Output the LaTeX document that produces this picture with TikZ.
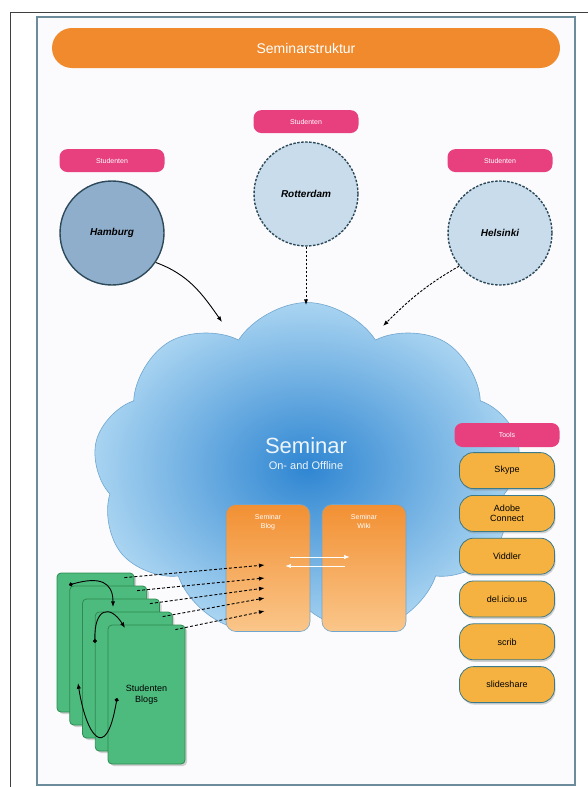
\documentclass[tikz,border=0pt]{standalone}
\usepackage{fontspec}
\setmainfont{Liberation Sans}
\usetikzlibrary{shapes,shapes.symbols,arrows.meta,positioning,shadows}
\definecolor{titleorange}{HTML}{F08A2C}
\definecolor{tagpink}{HTML}{E8407F}
\definecolor{cityblue}{HTML}{8FAECB}
\definecolor{citylight}{HTML}{C8DCEC}
\definecolor{cityborder}{HTML}{2D4A5A}
\definecolor{cloudin}{HTML}{2F86D2}
\definecolor{cloudout}{HTML}{A9D4F1}
\definecolor{cloudedge}{HTML}{6FA6D0}
\definecolor{boxtop}{HTML}{F29033}
\definecolor{boxbottom}{HTML}{FAC68A}
\definecolor{toolyellow}{HTML}{F5B240}
\definecolor{tooledge}{HTML}{3A7A8A}
\definecolor{cardgreen}{HTML}{4EBB7E}
\definecolor{cardedge}{HTML}{2E8A50}
\definecolor{paper}{HTML}{FBFBFD}
\definecolor{innerframe}{HTML}{6C8C9C}
\tikzset{
titlebar/.style={rectangle, fill=titleorange, text=white, rounded corners=20pt, minimum width=508pt, minimum height=40pt, font=\fontsize{14}{16}\selectfont},
tag/.style={rectangle, fill=tagpink, text=white, rounded corners=8pt, minimum width=105pt, minimum height=23pt, font=\fontsize{7}{8}\selectfont},
city/.style={circle, minimum size=104pt, line width=1.4pt, draw=cityborder, font=\bfseries\itshape\fontsize{10}{12}\selectfont},
remote/.style={city, fill=citylight, dash pattern=on 2.5pt off 1.5pt},
seminarcloud/.style={cloud, cloud puffs=9, cloud puff arc=115, aspect=1.3, minimum width=428pt, minimum height=335pt, inner color=cloudin, outer color=cloudout, draw=cloudedge, line width=0.6pt},
webbox/.style={rectangle, rounded corners=10pt, minimum width=84pt, minimum height=127pt, top color=boxtop, bottom color=boxbottom, draw=cloudedge, line width=0.6pt},
boxlabel/.style={align=center, text=white, font=\fontsize{7}{8.5}\selectfont},
tool/.style={rectangle, rounded corners=14pt, fill=toolyellow, draw=tooledge, line width=0.8pt, minimum width=95pt, minimum height=36pt, align=center, font=\fontsize{9}{10}\selectfont, drop shadow={shadow xshift=1pt, shadow yshift=-2pt, opacity=0.35}},
card/.style={rectangle, rounded corners=4pt, fill=cardgreen, draw=cardedge, line width=0.8pt, minimum width=77pt, minimum height=139pt, drop shadow={shadow xshift=2pt, shadow yshift=-2pt, opacity=0.35}},
line/.style={draw, -{Latex[length=2mm]}, line width=0.9pt},
loop/.style={draw, {Circle[length=4pt]}-{Latex[length=2mm]}, line width=0.9pt},
whiteline/.style={draw=white, -{Latex[length=2mm]}, line width=0.7pt}
}
\begin{document}
\begin{tikzpicture}[x=1pt, y=-1pt]
    \useasboundingbox (0,0) rectangle (588,787);
    % Frames
    \draw[fill=paper, draw=innerframe, line width=1.2pt] (37,17) rectangle (575,785);
    \draw[black!75, line width=1pt] (10,787) -- (10,12) -- (588,12);
    % Place nodes
    \node [titlebar] (title) at (306,48) {Seminarstruktur};
    \node [seminarcloud] (seminar) at (307,470) {};
    \node [text=white!92!cloudin, font=\fontsize{22}{24}\selectfont] (seminarlabel) at (306,446) {Seminar};
    \node [text=white!92!cloudin, font=\fontsize{11}{12}\selectfont, below=0pt of seminarlabel] (seminarsub) {On- and Offline};
    \node [city, fill=cityblue] (hamburg) at (112,233) {Hamburg};
    \node [remote] (rotterdam) at (306,194) {Rotterdam};
    \node [remote] (helsinki) at (500,233) {Helsinki};
    \node [tag, above=8pt of hamburg] (taghamburg) {Studenten};
    \node [tag, above=8pt of rotterdam] (tagrotterdam) {Studenten};
    \node [tag, above=8pt of helsinki] (taghelsinki) {Studenten};
    \node [webbox] (blog) at (268,568) {};
    \node [webbox] (wiki) at (364,568) {};
    \node [boxlabel, below=7pt of blog.north] (bloglabel) {Seminar\\Blog};
    \node [boxlabel, below=7pt of wiki.north] (wikilabel) {Seminar\\Wiki};
    % Tools
    \node [tag, minimum height=24pt] (tagtools) at (507,435) {Tools};
    \node [tool, below=5pt of tagtools] (skype) {Skype};
    \node [tool, below=6pt of skype] (adobe) {Adobe\\Connect};
    \node [tool, below=6pt of adobe] (viddler) {Viddler};
    \node [tool, below=6pt of viddler] (delicious) {del.icio.us};
    \node [tool, below=6pt of delicious] (scrib) {scrib};
    \node [tool, below=6pt of scrib] (slideshare) {slideshare};
    % Student blogs
    \foreach \i in {1,...,5}
        \node [card] (card\i) at ({95.5+12.75*(\i-1)}, {642.5+13*(\i-1)}) {};
    \node [align=center, font=\fontsize{9}{10.5}\selectfont] (cardtext) at (card5.center) {Studenten\\Blogs};
    % Draw edges
    \coordinate (hamburgin) at (222,322);
    \coordinate (rotterdamin) at (306,305);
    \coordinate (helsinkiin) at (383,326);
    \path [line] (hamburg.-34) to[out=-20, in=125] (hamburgin);
    \path [line, dash pattern=on 2.5pt off 1.5pt] (rotterdam.south) -- (rotterdamin);
    \path [line, dash pattern=on 2.5pt off 1.5pt] (helsinki.-141) to[out=-150, in=45] (helsinkiin);
    \path [whiteline] ([xshift=-20pt, yshift=11pt]blog.east) -- ([xshift=28pt, yshift=11pt]wiki.west);
    \path [whiteline] ([xshift=23pt, yshift=2pt]wiki.west) -- ([xshift=-25pt, yshift=2pt]blog.east);
    \foreach \i/\dy in {1/3, 2/-10, 3/-20, 4/-30, 5/-43}
        \path [line, densely dashed] ([xshift=-10pt, yshift=-5pt]card\i.north east) -- ([xshift=39pt, yshift=\dy pt]blog.west);
    % Loops between blogs
    \coordinate (loopastart) at (69,585);
    \coordinate (loopaend) at (113,607);
    \coordinate (loopbstart) at (95,643);
    \coordinate (loopbend) at (125,628);
    \coordinate (loopcstart) at (117,698);
    \coordinate (loopcend) at (78,683);
    \path [loop] (loopastart) .. controls (100,576) and (113,582) .. (loopaend);
    \path [loop] (loopbstart) .. controls (94,608) and (110,604) .. (loopbend);
    \path [loop] (loopcstart) .. controls (106,765) and (86,735) .. (loopcend);
\end{tikzpicture}
\end{document}
